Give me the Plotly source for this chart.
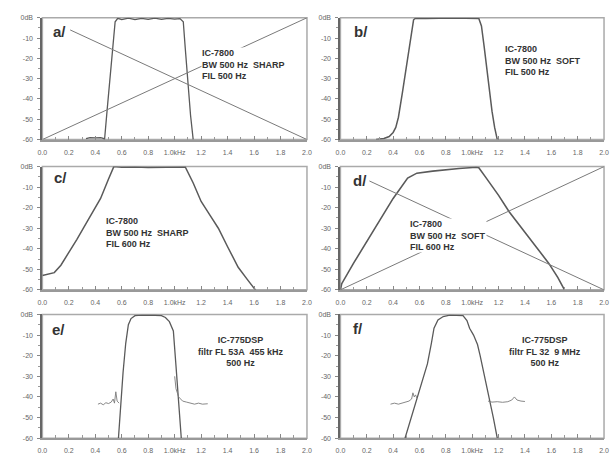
import plotly.graph_objects as go

# ---------------- data ----------------
x_ticks = [0.0, 0.2, 0.4, 0.6, 0.8, 1.0, 1.2, 1.4, 1.6, 1.8, 2.0]
x_tick_labels = ["0.0", "0.2", "0.4", "0.6", "0.8", "1.0kHz", "1.2", "1.4", "1.6", "1.8", "2.0"]
y_ticks = [0, -10, -20, -30, -40, -50, -60]
y_tick_labels = ["0dB", "-10", "-20", "-30", "-40", "-50", "-60"]

# a/ IC-7800 BW 500 Hz SHARP
a_x = [0.33, 0.36, 0.40, 0.44, 0.46, 0.47, 0.49, 0.51, 0.53, 0.55, 0.57, 0.60, 0.65, 0.70, 0.75, 0.80,
       0.85, 0.90, 0.95, 1.00, 1.04, 1.065, 1.08, 1.10, 1.12, 1.14]
a_y = [-59.5, -59.0, -59.2, -59.0, -59.4, -60, -45, -30, -15, -2, -0.3, -0.9, -0.2, -0.9, -0.3, -0.8,
       -0.2, -0.8, -0.3, -0.7, -0.4, -2, -15, -32, -48, -60]
a_line1_x = [0.21, 2.0]
a_line1_y = [-6.0, -60.0]
a_line2_x = [0.0, 2.0]
a_line2_y = [-60.0, 0.0]

# b/ IC-7800 BW 500 Hz SOFT
b_x = [0.27, 0.33, 0.37, 0.40, 0.42, 0.44, 0.47, 0.50, 0.53, 0.555, 0.57, 0.65, 0.75, 0.85, 0.95,
       1.05, 1.07, 1.09, 1.11, 1.13, 1.15, 1.17, 1.19]
b_y = [-60, -59.5, -58.5, -56.5, -54, -49, -37, -25, -12, -1, -0.2, -0.4, -0.2, -0.4, -0.3,
       -0.4, -4, -14, -25, -36, -46, -54, -60]

# c/ IC-7800 BW 500 Hz SHARP, FIL 600 Hz
c_x = [0.0, 0.04, 0.09, 0.14, 0.21, 0.26, 0.31, 0.37, 0.44, 0.50, 0.54, 0.60, 0.70, 0.80, 0.90,
       1.00, 1.08, 1.14, 1.20, 1.27, 1.33, 1.40, 1.48, 1.55, 1.61]
c_y = [-53, -52.5, -51.6, -48, -41, -35.5, -30, -23, -15.5, -6, 0, -0.3, -0.2, -0.5, -0.3,
       -0.4, -0.2, -8, -17, -24, -30, -39, -49, -55, -60]

# d/ IC-7800 BW 500 Hz SOFT, FIL 600 Hz
d_x = [0.0, 0.01, 0.1, 0.2, 0.3, 0.4, 0.51, 0.58, 0.7, 0.8, 0.9, 1.03, 1.05, 1.1, 1.2, 1.28,
       1.4, 1.5, 1.58, 1.65, 1.70]
d_y = [-60, -57, -47, -36.5, -26, -15.5, -5.6, -3.2, -2.2, -1.5, -0.9, -0.3, -0.6, -5, -14, -22,
       -32, -40, -47, -54, -60]
d_line1_x = [0.22, 2.0]
d_line1_y = [-7.0, -60.0]
d_line2_x = [0.0, 2.0]
d_line2_y = [-60.0, 0.0]

# e/ IC-775DSP filtr FL 53A 455 kHz
e_x = [0.575, 0.59, 0.61, 0.63, 0.65, 0.67, 0.70, 0.75, 0.80, 0.85, 0.90, 0.93, 0.96, 0.99,
       1.01, 1.03, 1.05]
e_y = [-60, -45, -28, -14, -5, -2, -0.6, -0.3, -0.2, -0.4, -0.6, -1.5, -3.5, -8,
       -25, -45, -60]
e_noise_left_x = [0.42, 0.44, 0.46, 0.48, 0.50, 0.52, 0.535, 0.545, 0.555, 0.565, 0.58]
e_noise_left_y = [-43.5, -43.0, -43.8, -42.8, -43.2, -42.5, -41.0, -43.0, -37.5, -42.0, -43.0]
e_noise_right_x = [1.0, 1.01, 1.03, 1.06, 1.09, 1.12, 1.15, 1.18, 1.21, 1.25]
e_noise_right_y = [-30, -36, -40, -42, -42.5, -43, -43.5, -43, -43.5, -43.3]

# f/ IC-775DSP filtr FL 32 9 MHz
f_x = [0.49, 0.55, 0.61, 0.66, 0.69, 0.71, 0.74, 0.78, 0.83, 0.88, 0.93, 0.96, 0.98, 1.01,
       1.04, 1.06, 1.08, 1.13, 1.16, 1.19]
f_y = [-60, -47, -35, -24, -14, -6.7, -2.7, -1, -0.3, -0.3, -0.6, -3, -6.7, -10,
       -14.6, -20, -25.7, -40, -50, -60]
f_noise_left_x = [0.38, 0.41, 0.44, 0.47, 0.50, 0.52, 0.54, 0.55, 0.56, 0.57, 0.58]
f_noise_left_y = [-43.5, -43.0, -43.5, -43.0, -42.5, -42.0, -41.0, -38.0, -40.0, -39.0, -40.5]
f_noise_right_x = [1.12, 1.15, 1.19, 1.23, 1.27, 1.30, 1.32, 1.34, 1.37, 1.40]
f_noise_right_y = [-42.0, -42.5, -42.3, -42.6, -42.3, -41.5, -40.0, -41.5, -42.0, -42.2]

panel_letters = ["a/", "b/", "c/", "d/", "e/", "f/"]
panel_texts = [
    "IC-7800<br>BW 500 Hz  SHARP<br>FIL 500 Hz",
    "IC-7800<br>BW 500 Hz  SOFT<br>FIL 500 Hz",
    "IC-7800<br>BW 500 Hz  SHARP<br>FIL 600 Hz",
    "IC-7800<br>BW 500 Hz  SOFT<br>FIL 600 Hz",
    "IC-775DSP<br>filtr FL 53A  455 kHz<br>500 Hz",
    "IC-775DSP<br>filtr FL 32  9 MHz<br>500 Hz",
]
letter_pos = [(0.065, -7.0), (0.09, -7.0), (0.07, -5.5), (0.08, -6.7), (0.06, -7.1), (0.08, -7.0)]
text_pos = [(1.20, -23.0, "left"), (1.24, -21.0, "left"), (0.47, -32.0, "left"),
            (0.52, -33.3, "left"), (1.50, -18.0, "center"), (1.55, -18.0, "center")]

# ---------------- layout ----------------
W, H = 611, 454
col_dom = [(38 / W, 307 / W), (341 / W, 609 / W)]
row_dom = [(1 - 138 / H, 1 - 14 / H), (1 - 291 / H, 1 - 165.5 / H), (1 - 442 / H, 1 - 316 / H)]

fig = go.Figure()
CURVE = "#5a5a5a"
THIN = "#7a7a7a"

panels = [
    [(a_x, a_y, 1.3), (a_line1_x, a_line1_y, 1.0), (a_line2_x, a_line2_y, 1.0)],
    [(b_x, b_y, 1.5)],
    [(c_x, c_y, 1.5)],
    [(d_x, d_y, 1.6), (d_line1_x, d_line1_y, 1.0), (d_line2_x, d_line2_y, 1.0)],
    [(e_x, e_y, 1.3), (e_noise_left_x, e_noise_left_y, 0.9), (e_noise_right_x, e_noise_right_y, 0.9)],
    [(f_x, f_y, 1.3), (f_noise_left_x, f_noise_left_y, 0.9), (f_noise_right_x, f_noise_right_y, 0.9)],
]

shapes = []
annotations = []
for i, traces in enumerate(panels):
    n = i + 1
    r, c = divmod(i, 2)
    xa = "x" if n == 1 else f"x{n}"
    ya = "y" if n == 1 else f"y{n}"
    for k, (xs, ys, w) in enumerate(traces):
        fig.add_trace(go.Scatter(x=xs, y=ys, mode="lines", xaxis=xa, yaxis=ya,
                                 line=dict(color=CURVE if k == 0 else THIN, width=w),
                                 showlegend=False, hoverinfo="skip"))
    xkey = "xaxis" if n == 1 else f"xaxis{n}"
    ykey = "yaxis" if n == 1 else f"yaxis{n}"
    fig.layout[xkey] = dict(
        domain=col_dom[c], anchor=ya, range=[0, 2.0], tickvals=x_ticks, ticktext=x_tick_labels,
        ticks="inside", ticklen=4, tickcolor="#888", showgrid=False, zeroline=False,
        showline=True, linecolor="#999", linewidth=1.5,
        minor=dict(dtick=0.1, tick0=0, ticks="inside", ticklen=3, tickcolor="#999", showgrid=False),
        tickfont=dict(family="Arial, Liberation Sans", size=7, color="#666"),
        ticklabelstandoff=5, fixedrange=True)
    fig.layout[ykey] = dict(
        domain=row_dom[r], anchor=xa, range=[-60, 0], tickvals=y_ticks, ticktext=y_tick_labels,
        ticks="outside", ticklen=3, tickcolor="#888", showgrid=False, zeroline=False,
        showline=True, linecolor="#666", linewidth=2,
        minor=dict(dtick=5, ticks="outside", ticklen=2, tickcolor="#999", showgrid=False),
        tickfont=dict(family="Arial, Liberation Sans", size=7, color="#666"),
        ticklabelstandoff=3, fixedrange=True)
    shapes.append(dict(type="rect", xref=f"{xa} domain", yref=f"{ya} domain", x0=0, x1=1, y0=0, y1=1,
                       line=dict(color="#aaa", width=1.5), layer="below"))
    lx, ly = letter_pos[i]
    annotations.append(dict(x=lx, y=ly, xref=xa, yref=ya, text=f"<b>{panel_letters[i]}</b>",
                            showarrow=False, xanchor="left", yanchor="middle",
                            font=dict(family="Arial, Liberation Sans", size=15, color="#333")))
    tx, ty, al = text_pos[i]
    annotations.append(dict(x=tx, y=ty, xref=xa, yref=ya, text=f"<b>{panel_texts[i]}</b>",
                            showarrow=False, xanchor=al, yanchor="middle", align=al,
                            bgcolor="white", borderpad=0,
                            font=dict(family="Arial, Liberation Sans", size=9, color="#333")))

fig.update_layout(width=W, height=H, margin=dict(l=0, r=0, t=0, b=0),
                  paper_bgcolor="white", plot_bgcolor="white",
                  shapes=shapes, annotations=annotations)

fig.write_html("out.html")
